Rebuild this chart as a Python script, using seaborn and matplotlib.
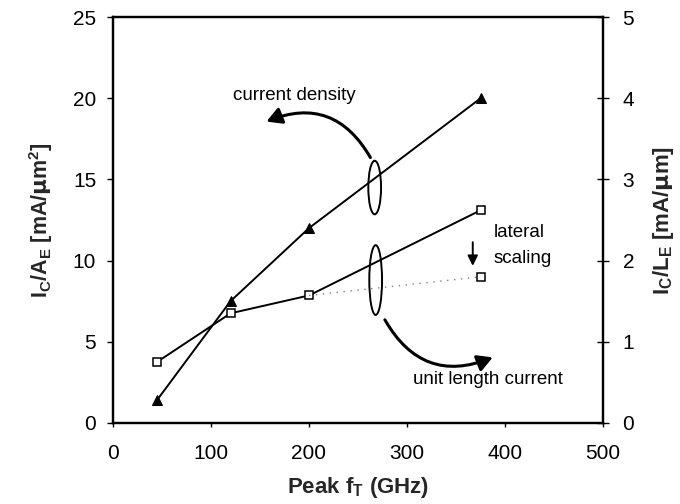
import matplotlib
matplotlib.use("Agg")
import matplotlib.pyplot as plt
import seaborn as sns
import pandas as pd
from matplotlib.patches import Ellipse, FancyArrowPatch

sns.set_theme(style="white")
plt.rcParams['font.family'] = ['Liberation Sans', 'DejaVu Sans']

# Data
ft_density = [45, 120, 200, 375]
current_density = [1.4, 7.5, 12.0, 20.0]          # Ic/Ae [mA/um^2], left axis
ft_length = [45, 120, 200, 375]
unit_length_current = [0.75, 1.35, 1.57, 2.62]   # Ic/Le [mA/um], right axis
ft_scaled = [200, 375]
scaled_current = [1.57, 1.8]                      # after lateral scaling

x_ticks = [0, 100, 200, 300, 400, 500]
left_ticks = [0, 5, 10, 15, 20, 25]
right_ticks = [0, 1, 2, 3, 4, 5]

fig = plt.figure(figsize=(6.8, 5.04), dpi=100)
ax = fig.add_axes([0.166, 0.161, 0.721, 0.805])
ax2 = ax.twinx()

df1 = pd.DataFrame({"ft": ft_density, "v": current_density})
df2 = pd.DataFrame({"ft": ft_length, "v": unit_length_current})
df3 = pd.DataFrame({"ft": ft_scaled, "v": scaled_current})

sns.lineplot(data=df1, x="ft", y="v", ax=ax, color="black", lw=1.4,
             marker="^", markersize=7.5, markeredgecolor="black", markerfacecolor="black")
sns.lineplot(data=df2, x="ft", y="v", ax=ax2, color="black", lw=1.4,
             marker="s", markersize=5.5, markeredgecolor="black", markerfacecolor="white",
             markeredgewidth=1.1)
sns.lineplot(data=df3, x="ft", y="v", ax=ax2, color="0.5", lw=1.0, linestyle=(0, (1, 4)))
ax2.plot([ft_scaled[-1]], [scaled_current[-1]], marker="s", markersize=5.5,
         markerfacecolor="white", markeredgecolor="black", markeredgewidth=1.1, lw=0)

ax.set_xlim(0, 500)
ax.set_ylim(0, 25)
ax2.set_ylim(0, 5)
ax.set_xticks(x_ticks)
ax.set_yticks(left_ticks)
ax2.set_yticks(right_ticks)

for a in (ax, ax2):
    for s in a.spines.values():
        s.set_color("black")
        s.set_linewidth(1.6)
ax.tick_params(axis="y", labelsize=15, colors="black", length=4, width=1, direction="out",
               left=True, pad=8)
ax.tick_params(axis="x", labelsize=15, colors="black", length=3, width=1, direction="out",
               bottom=True, pad=12)
ax2.tick_params(axis="y", labelsize=15, colors="black", length=8, width=1, direction="inout",
                right=True, pad=10)

ax.set_xlabel(r"Peak f$_\mathregular{T}$ (GHz)", fontsize=16, fontweight="bold", labelpad=9)
ax.set_ylabel(r"I$_\mathregular{C}$/A$_\mathregular{E}$ [mA/$\mathbf{\mu}$m$^\mathregular{2}$]",
              fontsize=15.5, fontweight="bold", labelpad=13)
ax2.set_ylabel(r"I$_\mathregular{C}$/L$_\mathregular{E}$ [mA/$\mathbf{\mu}$m]",
               fontsize=16, fontweight="bold", labelpad=12)

# Ellipses
ax.add_patch(Ellipse((267, 14.5), 13, 3.3, fill=False, ec="black", lw=1.4))
ax.add_patch(Ellipse((268, 8.8), 13, 4.3, fill=False, ec="black", lw=1.4))

# Curved arrows
arr1 = FancyArrowPatch((264, 16.2), (154, 18.5), connectionstyle="arc3,rad=0.45",
                       arrowstyle="-|>,head_length=9,head_width=5", color="black", lw=2.2)
ax.add_patch(arr1)
arr2 = FancyArrowPatch((276, 6.5), (390, 4.1), connectionstyle="arc3,rad=0.45",
                       arrowstyle="-|>,head_length=9,head_width=5", color="black", lw=2.2)
ax.add_patch(arr2)
arr3 = FancyArrowPatch((367, 11.3), (367, 9.5), arrowstyle="-|>,head_length=6,head_width=3",
                       color="black", lw=1.4)
ax.add_patch(arr3)

ax.text(122, 20.2, "current density", fontsize=13.5, ha="left", va="center", color="black")
ax.text(388, 11.7, "lateral", fontsize=13.5, ha="left", va="center", color="black")
ax.text(388, 10.15, "scaling", fontsize=13.5, ha="left", va="center", color="black")
ax.text(306, 2.65, "unit length current", fontsize=13.5, ha="left", va="center", color="black")

fig.savefig("out.png", dpi=100)
